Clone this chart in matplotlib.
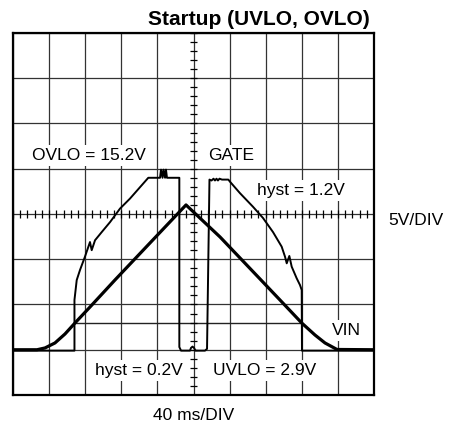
import matplotlib
matplotlib.use("Agg")
import matplotlib.pyplot as plt
import numpy as np

plt.rcParams['font.family'] = ['Liberation Sans', 'DejaVu Sans']

# time in ms (40 ms/div), voltage in V (5 V/div)
vin_t = [0, 26.6, 35.5, 46.5, 57.6, 68.7, 85.3, 113, 151.8, 191.7,
         229.4, 273.7, 295.8, 319.9, 334.6, 345.7, 359, 400]
vin_v = [0, 0, 0.2, 0.75, 1.74, 2.96, 4.72, 7.71, 11.8, 16.0,
         12.46, 7.82, 5.5, 2.96, 1.63, 0.75, 0.03, 0]

gate_t = [0, 68.1, 68.1, 70.6, 74.2, 79.8, 85.3, 87.2, 90.9, 98.3,
          107.5, 118.6, 129.6, 149.9, 162.9, 164.0, 165.7, 166.8, 168.5,
          169.5, 170.6, 184.3, 184.3, 186.2, 196.1, 197.2, 198.9, 200.6,
          202.2, 212.7, 215.0, 217.7, 220.0, 222.2, 223.8, 225.5, 227.1,
          228.8, 231.6, 238.6, 240.4, 251.5, 265.9, 277.0, 288.1, 297.7,
          301.4, 303.3, 306.2, 308.8, 314.3, 318.0, 319.9, 320.2, 400]
gate_v = [-0.1, -0.1, 5.5, 7.7, 8.8, 10.3, 11.9, 11.0, 12.1, 13.0,
          14.1, 15.6, 16.7, 19.0, 19.0, 19.9, 19.0, 19.9, 19.0,
          19.9, 19.0, 19.0, 0.3, -0.1, -0.1, 0.2, 0.35, 0.2,
          -0.1, -0.1, 0.1, 18.8, 18.7, 18.9, 18.7, 18.9, 18.7,
          18.9, 18.8, 18.8, 18.57, 17.3, 15.8, 14.56, 13.0, 11.39,
          10.28, 9.55, 10.36, 9.18, 7.9, 7.15, 6.6, -0.1, -0.1]

uvlo_level = 2.9
uvlo_span = [67.6, 320.2]

fig = plt.figure(figsize=(4.5, 4.25), dpi=100)
ax = fig.add_axes([0.0289, 0.0706, 0.8022, 0.8518])
ax.set_xlim(0, 400)
ax.set_ylim(-5, 35)
ax.set_xticks(np.arange(0, 401, 40))
ax.set_yticks(np.arange(-5, 36, 5))
ax.tick_params(length=0, labelbottom=False, labelleft=False)
ax.grid(True, color='#333333', linewidth=0.9, zorder=1)
ax.set_axisbelow(True)
for s in ax.spines.values():
    s.set_linewidth(1.6)
    s.set_zorder(6)

# minor ticks on the centre lines
ax.vlines(np.arange(0, 401, 8), 15 - 0.42, 15 + 0.42, color='black', lw=0.9, zorder=5)
ax.hlines(np.arange(-5, 36, 1), 200 - 4.2, 200 + 4.2, color='black', lw=0.9, zorder=5)

ax.hlines(uvlo_level, uvlo_span[0], uvlo_span[1], color='#222222', lw=1.0, zorder=2)
ax.plot(gate_t, gate_v, color='black', lw=1.4, zorder=3)
ax.plot(vin_t, vin_v, color='black', lw=2.3, zorder=3)

box = dict(facecolor='white', edgecolor='none', pad=2)
fs = 12.5
ax.text(84.2, 20.97, 'OVLO = 15.2V', fontsize=fs, ha='center', va='baseline', bbox=box, zorder=4)
ax.text(216, 20.97, 'GATE', fontsize=fs, ha='left', va='baseline', bbox=box, zorder=4)
ax.text(270.4, 17.1, 'hyst = 1.2V', fontsize=fs, ha='left', va='baseline', bbox=box, zorder=4)
ax.text(353.5, 1.63, 'VIN', fontsize=fs, ha='left', va='baseline', bbox=box, zorder=4)
ax.text(90.9, -2.79, 'hyst = 0.2V', fontsize=fs, ha='left', va='baseline', bbox=box, zorder=4)
ax.text(221.6, -2.79, 'UVLO = 2.9V', fontsize=fs, ha='left', va='baseline', bbox=box, zorder=4)
ax.text(415.5, 13.8, '5V/DIV', fontsize=fs, ha='left', va='baseline', clip_on=False)
ax.text(200, -7.76, '40 ms/DIV', fontsize=fs, ha='center', va='baseline', clip_on=False)

fig.text(370 / 450, 1 - 25 / 425, 'Startup (UVLO, OVLO)', fontsize=15, fontweight='bold',
         ha='right', va='baseline')

fig.savefig('out.png', dpi=100)
